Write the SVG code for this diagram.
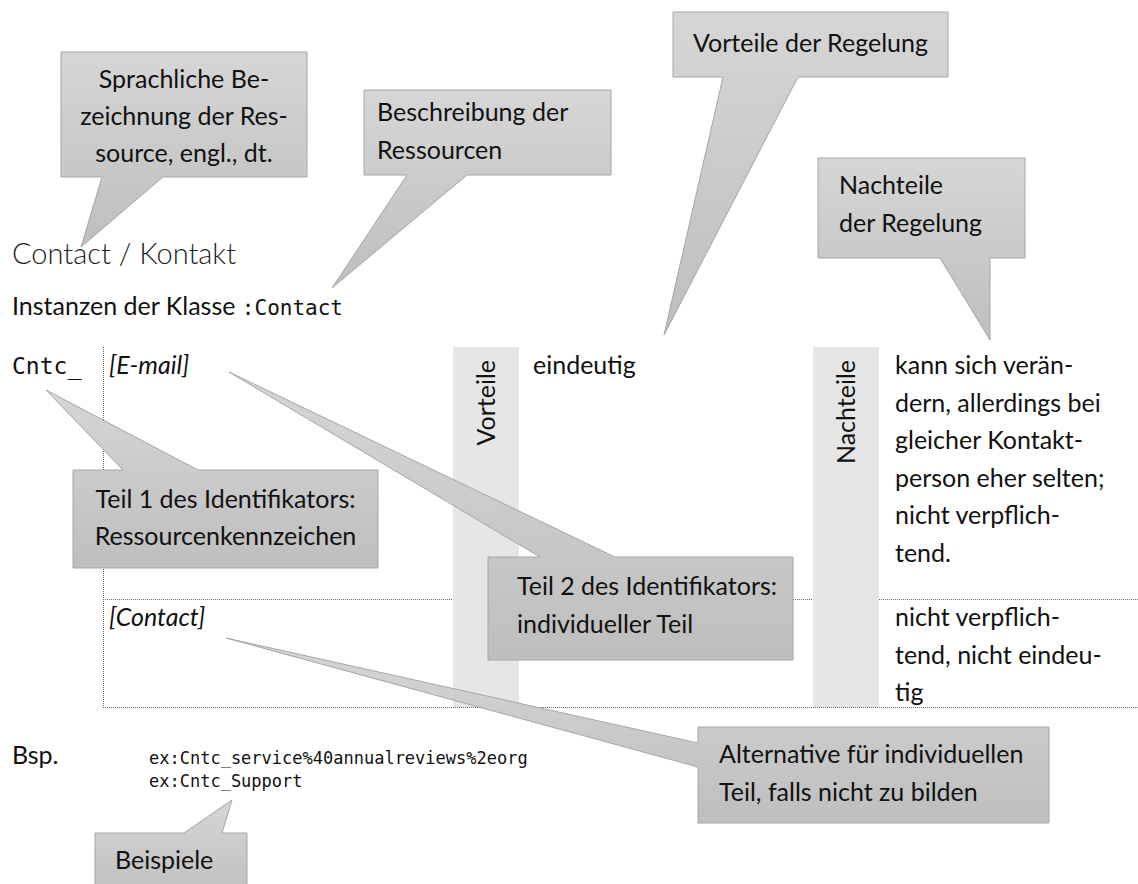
<svg xmlns="http://www.w3.org/2000/svg" width="1138" height="884" viewBox="0 0 1138 884">
  <defs>
    <!-- shared fill for the speech-bubble callouts -->
    <linearGradient id="calloutFill" x1="0" y1="0" x2="0" y2="1">
      <stop offset="0" stop-color="#d6d6d6"/>
      <stop offset="1" stop-color="#bebebe"/>
    </linearGradient>
    <style>
      .callout { fill: url(#calloutFill); stroke: #a6a6a6; stroke-width: 1; }
      .txt { font-family: Lato, "Liberation Sans", sans-serif; font-size: 25px; fill: #111; }
      .head { font-family: Lato, "Liberation Sans", sans-serif; font-weight: 300; font-size: 29px; fill: #222; }
      .ital { font-style: italic; }
      .mono { font-family: "DejaVu Sans Mono", "Liberation Mono", monospace; fill: #111; }
      .rule { stroke: #666; stroke-width: 1; stroke-dasharray: 1 1; fill: none; }
      .strip { fill: #e6e6e6; }
      .mid { text-anchor: middle; }
    </style>
  </defs>

  <rect width="1138" height="884" fill="#ffffff"/>

  <!-- heading and class line -->
  <text class="head" x="12" y="264">Contact / Kontakt</text>
  <text class="txt" x="12" y="315">Instanzen der Klasse <tspan class="mono" font-size="21">:Contact</tspan></text>

  <!-- side columns for advantages / disadvantages -->
  <rect class="strip" x="453" y="347" width="66" height="360"/>
  <rect class="strip" x="813" y="347" width="66" height="360"/>

  <!-- table rules -->
  <g id="table-rules">
    <line class="rule" x1="103.5" y1="347" x2="103.5" y2="707"/>
    <line class="rule" x1="103" y1="599.5" x2="453" y2="599.5"/>
    <line class="rule" x1="519" y1="599.5" x2="813" y2="599.5"/>
    <line class="rule" x1="879" y1="599.5" x2="1138" y2="599.5"/>
    <line class="rule" x1="103" y1="707.5" x2="1138" y2="707.5"/>
  </g>

  <!-- table content -->
  <g id="table-text">
    <text class="mono" font-size="23" x="12" y="374">Cntc_</text>
    <text class="txt ital" x="109" y="374">[E-mail]</text>
    <text class="txt ital" x="109" y="626">[Contact]</text>
    <text class="txt" text-anchor="end" transform="translate(495,360) rotate(-90)">Vorteile</text>
    <text class="txt" x="533" y="374">eindeutig</text>
    <text class="txt" text-anchor="end" transform="translate(855,360) rotate(-90)">Nachteile</text>
    <text class="txt" x="895" y="374">kann sich verän-</text>
    <text class="txt" x="895" y="411.6">dern, allerdings bei</text>
    <text class="txt" x="895" y="449.2">gleicher Kontakt-</text>
    <text class="txt" x="895" y="486.8">person eher selten;</text>
    <text class="txt" x="895" y="524.4">nicht verpflich-</text>
    <text class="txt" x="895" y="562">tend.</text>
    <text class="txt" x="895" y="626">nicht verpflich-</text>
    <text class="txt" x="895" y="663.6">tend, nicht eindeu-</text>
    <text class="txt" x="895" y="701">tig</text>
  </g>

  <!-- examples -->
  <g id="examples">
    <text class="txt" x="12" y="764">Bsp.</text>
    <text class="mono" font-size="17" x="149" y="764">ex:Cntc_service%40annualreviews%2eorg</text>
    <text class="mono" font-size="17" x="149" y="787">ex:Cntc_Support</text>
  </g>

  <!-- callouts -->
  <g id="callout-bezeichnung">
    <path class="callout" d="M61,52 H307 V177 H163 L81,247 L102,177 H61 Z"/>
    <text class="txt mid" x="184" y="88">Sprachliche Be-</text>
    <text class="txt mid" x="184" y="125">zeichnung der Res-</text>
    <text class="txt mid" x="184" y="162">source, engl., dt.</text>
  </g>

  <g id="callout-beschreibung">
    <path class="callout" d="M364,90 H611 V175 H467 L332,288 L407,175 H364 Z"/>
    <text class="txt" x="377" y="121">Beschreibung der</text>
    <text class="txt" x="377" y="159">Ressourcen</text>
  </g>

  <g id="callout-vorteile">
    <path class="callout" d="M673,12 H948 V77 H798 L664,335 L723,77 H673 Z"/>
    <text class="txt" x="693" y="52">Vorteile der Regelung</text>
  </g>

  <g id="callout-nachteile">
    <path class="callout" d="M818,158 H1025 V258 H990 V340 L940,258 H818 Z"/>
    <text class="txt" x="839" y="194">Nachteile</text>
    <text class="txt" x="839" y="232">der Regelung</text>
  </g>

  <g id="callout-teil1">
    <path class="callout" d="M73,470 H123 L46,390 L198,470 H378 V568 H73 Z"/>
    <text class="txt mid" x="225.5" y="508">Teil 1 des Identifikators:</text>
    <text class="txt mid" x="225.5" y="545">Ressourcenkennzeichen</text>
  </g>

  <g id="callout-teil2">
    <path class="callout" d="M488,557 H540 L229,372 L615,557 H793 V660 H488 Z"/>
    <text class="txt" x="517" y="595">Teil 2 des Identifikators:</text>
    <text class="txt" x="517" y="633">individueller Teil</text>
  </g>

  <g id="callout-alternative">
    <path class="callout" d="M698,727 H1049 V823 H698 V767 L226,638 L698,743 Z"/>
    <text class="txt" x="719" y="763">Alternative für individuellen</text>
    <text class="txt" x="719" y="801">Teil, falls nicht zu bilden</text>
  </g>

  <g id="callout-beispiele">
    <path class="callout" d="M95,833 H184 L232,800 L222,833 H247 V900 H95 Z"/>
    <text class="txt" x="115" y="869">Beispiele</text>
  </g>
</svg>
